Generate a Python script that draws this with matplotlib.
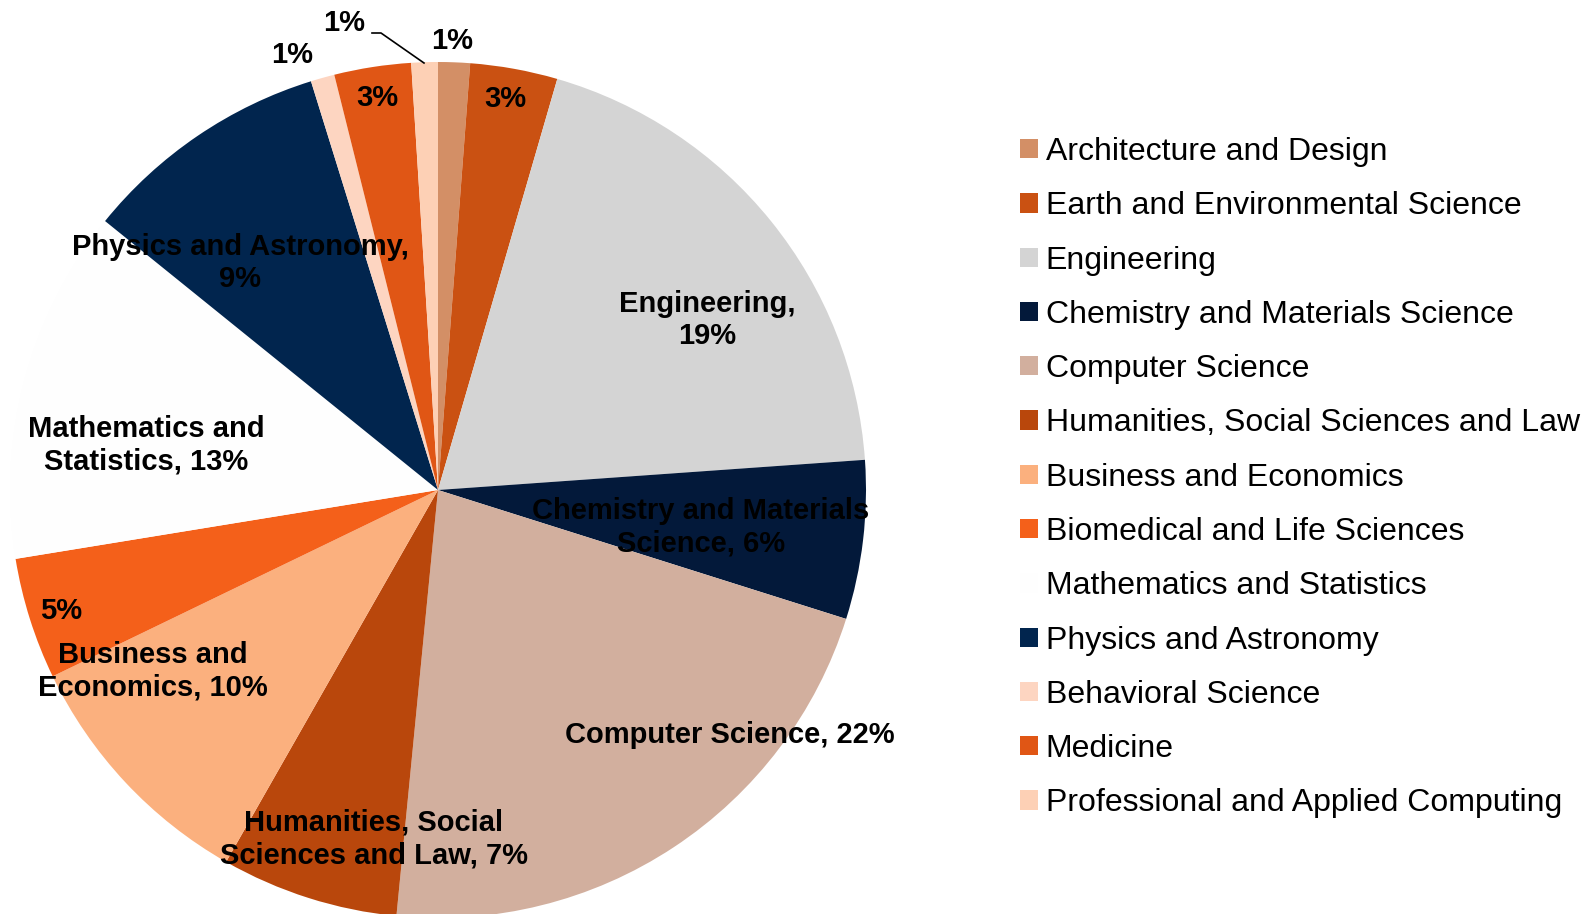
import matplotlib
matplotlib.use("Agg")
import matplotlib.pyplot as plt
from matplotlib.patches import Patch

categories = [
    "Architecture and Design",
    "Earth and Environmental Science",
    "Engineering",
    "Chemistry and Materials Science",
    "Computer Science",
    "Humanities, Social Sciences and Law",
    "Business and Economics",
    "Biomedical and Life Sciences",
    "Mathematics and Statistics",
    "Physics and Astronomy",
    "Behavioral Science",
    "Medicine",
    "Professional and Applied Computing",
]
shares = [1.2, 3.3, 19.4, 6.0, 21.7, 6.7, 9.6, 4.6, 13.4, 9.4, 0.9, 2.9, 1.0]
colors = ["#D38F66", "#CA5112", "#D4D4D4", "#03193A", "#D2AF9E", "#B9470C",
          "#FBB07E", "#F4601A", "#FEFEFE", "#01254E", "#FDD5C1", "#E05615", "#FDD0B5"]

# label text names (as shown on the slices) and label positions (pixels, layout only)
slice_names = ["", "", "Engineering,\n", "Chemistry and Materials\nScience, ", "Computer Science, ",
               "Humanities, Social\nSciences and Law, ", "Business and\nEconomics, ", "",
               "Mathematics and\nStatistics, ", "Physics and Astronomy,\n", "", "", ""]
label_pos = [(452, 41), (505, 99), (707, 320), (701, 527), (730, 735), (374, 839),
             (153, 671), (61, 611), (146, 445), (240, 263), (292, 55), (377, 98), (344, 23)]

W, H = 1583, 914
fig = plt.figure(figsize=(W / 100, H / 100), dpi=100)
ax = fig.add_axes([0, 0, 1, 1])

cx, cy, R = 438, 490, 428
wedges, _ = ax.pie(shares, colors=colors, startangle=90, counterclock=False,
                   center=(cx, H - cy), radius=R, frame=True,
                   wedgeprops=dict(linewidth=0))
ax.set_xlim(0, W)
ax.set_ylim(0, H)
ax.axis("off")

font = "Liberation Sans"
for name, v, (x, y) in zip(slice_names, shares, label_pos):
    txt = f"{name}{int(v + 0.5)}%"
    ax.text(x, H - y, txt, ha="center", va="center", fontsize=21, fontweight="bold",
            family=font, color="black", linespacing=1.2)

# leader line for the Professional and Applied Computing label
ax.plot([372, 381, 424], [H - 33, H - 33, H - 63], color="black", lw=1.2)

handles = [Patch(facecolor=c, edgecolor="none") for c in colors]
leg = fig.legend(handles, categories, loc="upper left",
                 bbox_to_anchor=(1020 / W, 1 - 137 / H), frameon=False,
                 prop=dict(family=font, size=23), handlelength=0.55, handleheight=0.55,
                 handletextpad=0.25, labelspacing=0.76, borderpad=0, borderaxespad=0)

fig.savefig("out.png", dpi=100, facecolor="white")
